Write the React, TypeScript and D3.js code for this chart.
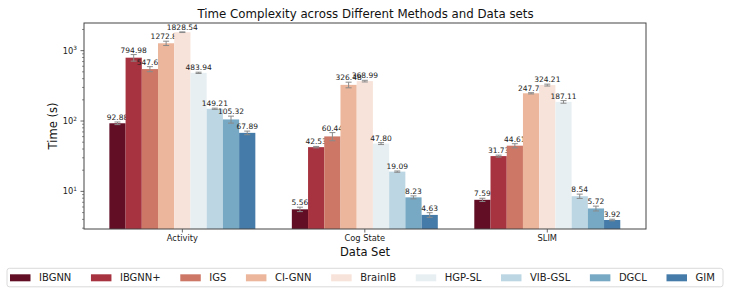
import React, { useEffect, useRef } from 'react';
import * as d3 from 'd3';

const datasets = ['Activity', 'Cog State', 'SLIM'];
const methods = ['IBGNN', 'IBGNN+', 'IGS', 'CI-GNN', 'BrainIB', 'HGP-SL', 'VIB-GSL', 'DGCL', 'GIM'];
const colors = ['#620f26', '#a6333f', '#cd7867', '#ebb69b', '#f8e3da', '#e8eff2', '#bcd6e3', '#77a9c5', '#447ba8'];

// time per method, one row per data set
const activityTimes = [92.88, 794.98, 547.63, 1272.83, 1828.54, 483.94, 149.21, 105.32, 67.89];
const cogStateTimes = [5.56, 42.53, 60.44, 326.48, 368.99, 47.8, 19.09, 8.23, 4.63];
const slimTimes = [7.59, 31.73, 44.61, 247.73, 324.21, 187.11, 8.54, 5.72, 3.92];

const activityErr = [4, 85, 45, 90, 20, 10, 3, 12, 4];
const cogStateErr = [0.4, 1, 8, 30, 10, 1.5, 0.4, 0.4, 0.35];
const slimErr = [0.4, 1, 3, 5, 10, 8, 0.6, 0.45, 0.1];

const yDomain: [number, number] = [2.92, 2472];
const yMajorTicks = [10, 100, 1000];

const App: React.FC = () => {
  const svgRef = useRef<SVGSVGElement>(null);
  const width = 730;
  const height = 304;

  useEffect(() => {
    if (!svgRef.current) return;
    const svg = d3.select(svgRef.current);
    svg.selectAll('*').remove();

    const font = 'DejaVu Sans, sans-serif';
    const left = 84;
    const right = 646;
    const top = 23;
    const bottom = 229;

    const times = [activityTimes, cogStateTimes, slimTimes];
    const errs = [activityErr, cogStateErr, slimErr];

    const xScale = d3.scaleLinear().domain([-0.539, 2.541]).range([left, right]);
    const yScale = d3.scaleLog().domain(yDomain).range([bottom, top]);
    const bw = 0.8 / methods.length;
    const bwPx = xScale(bw) - xScale(0);

    const g = svg.append('g');

    // bars
    datasets.forEach((ds, i) => {
      methods.forEach((m, j) => {
        const v = times[i][j];
        const e = errs[i][j];
        const cx = xScale(i + (j - (methods.length - 1) / 2) * bw);
        g.append('rect')
          .attr('x', cx - bwPx / 2)
          .attr('y', yScale(v))
          .attr('width', bwPx)
          .attr('height', bottom - yScale(v))
          .attr('fill', colors[j]);

        const yLo = yScale(v - e);
        const yHi = yScale(v + e);
        const eb = g.append('g').attr('stroke', '#8a8a8a').attr('stroke-width', 1);
        eb.append('line').attr('x1', cx).attr('x2', cx).attr('y1', yLo).attr('y2', yHi);
        eb.append('line').attr('x1', cx - 3).attr('x2', cx + 3).attr('y1', yLo).attr('y2', yLo);
        eb.append('line').attr('x1', cx - 3).attr('x2', cx + 3).attr('y1', yHi).attr('y2', yHi);

        g.append('text')
          .attr('x', cx)
          .attr('y', yHi - 2)
          .attr('text-anchor', 'middle')
          .attr('font-family', font)
          .attr('font-size', '7.5px')
          .attr('fill', '#222')
          .text(v.toFixed(2));
      });
    });

    // frame
    g.append('rect')
      .attr('x', left)
      .attr('y', top)
      .attr('width', right - left)
      .attr('height', bottom - top)
      .attr('fill', 'none')
      .attr('stroke', '#444')
      .attr('stroke-width', 1);

    // y ticks
    const minor: number[] = [];
    for (let p = 0; p < 4; p++) {
      for (let k = 2; k <= 9; k++) {
        const t = k * Math.pow(10, p);
        if (t >= yDomain[0] && t <= yDomain[1]) minor.push(t);
      }
    }
    minor.forEach((t) => {
      g.append('line')
        .attr('x1', left - 2)
        .attr('x2', left)
        .attr('y1', yScale(t))
        .attr('y2', yScale(t))
        .attr('stroke', '#444')
        .attr('stroke-width', 0.6);
    });
    yMajorTicks.forEach((t) => {
      const y = yScale(t);
      g.append('line')
        .attr('x1', left - 3.5)
        .attr('x2', left)
        .attr('y1', y)
        .attr('y2', y)
        .attr('stroke', '#444')
        .attr('stroke-width', 0.8);
      const txt = g
        .append('text')
        .attr('x', left - 7)
        .attr('y', y + 3)
        .attr('text-anchor', 'end')
        .attr('font-family', font)
        .attr('font-size', '8.3px')
        .attr('fill', '#222');
      txt.append('tspan').text('10');
      txt
        .append('tspan')
        .attr('dy', -3.5)
        .attr('font-size', '5.8px')
        .text(String(Math.round(Math.log10(t))));
    });

    // x ticks
    datasets.forEach((ds, i) => {
      const x = xScale(i);
      g.append('line')
        .attr('x1', x)
        .attr('x2', x)
        .attr('y1', bottom)
        .attr('y2', bottom + 3.5)
        .attr('stroke', '#444')
        .attr('stroke-width', 0.8);
      g.append('text')
        .attr('x', x)
        .attr('y', bottom + 12)
        .attr('text-anchor', 'middle')
        .attr('font-family', font)
        .attr('font-size', '8.3px')
        .attr('fill', '#222')
        .text(ds);
    });

    // labels
    g.append('text')
      .attr('x', 365.5)
      .attr('y', 17.5)
      .attr('text-anchor', 'middle')
      .attr('font-family', font)
      .attr('font-size', '11.8px')
      .attr('fill', '#111')
      .text('Time Complexity across Different Methods and Data sets');

    g.append('text')
      .attr('x', (left + right) / 2)
      .attr('y', 256)
      .attr('text-anchor', 'middle')
      .attr('font-family', font)
      .attr('font-size', '11.5px')
      .attr('fill', '#111')
      .text('Data Set');

    g.append('text')
      .attr('transform', 'rotate(-90)')
      .attr('x', -(top + bottom) / 2)
      .attr('y', 57)
      .attr('text-anchor', 'middle')
      .attr('font-family', font)
      .attr('font-size', '11.5px')
      .attr('fill', '#111')
      .text('Time (s)');

    // legend
    const legend = g.append('g');
    legend
      .append('rect')
      .attr('x', 7)
      .attr('y', 268.3)
      .attr('width', 716)
      .attr('height', 18.5)
      .attr('rx', 2.5)
      .attr('fill', '#fff')
      .attr('stroke', '#d0d0d0')
      .attr('stroke-width', 0.8);
    let lx = 10;
    methods.forEach((m, j) => {
      legend
        .append('rect')
        .attr('x', lx)
        .attr('y', 274.3)
        .attr('width', 20.5)
        .attr('height', 7)
        .attr('fill', colors[j]);
      const t = legend
        .append('text')
        .attr('x', lx + 29)
        .attr('y', 281)
        .attr('font-family', font)
        .attr('font-size', '10px')
        .attr('fill', '#222')
        .text(m);
      const tw = (t.node() as SVGTextElement).getComputedTextLength();
      lx += 29 + tw + 19.6;
    });
  }, []);

  return (
    <svg
      ref={svgRef}
      width={width}
      height={height}
      style={{ position: 'absolute', left: 0, top: 0, background: '#fff' }}
    />
  );
};

export default App;
